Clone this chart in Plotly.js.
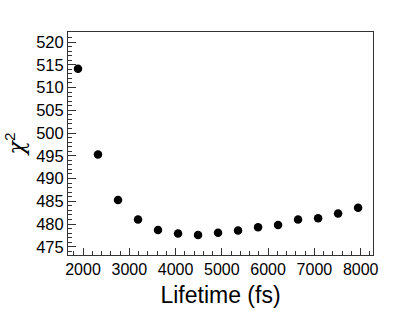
<!DOCTYPE html>
<html>
<head>
<meta charset="utf-8">
<script src="https://cdn.plot.ly/plotly-3.0.1.min.js"></script>
<style>html,body{margin:0;padding:0;background:#fff;}#chart{width:415px;height:317px;}</style>
</head>
<body>
<div id="chart"></div>
<script>
var lifetimes = [1892, 2324, 2757, 3189, 3621, 4054, 4486, 4918, 5350, 5783, 6215, 6647, 7080, 7512, 7944];
var chi2 = [514.1, 495.3, 485.3, 481.0, 478.7, 477.9, 477.6, 478.1, 478.6, 479.3, 479.8, 481.0, 481.3, 482.3, 483.6];
var xTitle = 'Lifetime (fs)';
var yTitle = '<span style="font-family:\'DejaVu Serif\',serif;font-style:italic;">χ</span><sup>2</sup>';

var font = 'Liberation Sans, Arial, Helvetica, sans-serif';
var trace = {
  x: lifetimes, y: chi2, type: 'scatter', mode: 'markers',
  marker: {color: '#000', size: 8.5}
};
var layout = {
  width: 415, height: 317,
  margin: {l: 68, r: 42, t: 32, b: 62, pad: 0},
  paper_bgcolor: '#fff', plot_bgcolor: '#fff',
  showlegend: false,
  font: {family: font, color: '#000'},
  xaxis: {
    range: [1676, 8266], tick0: 2000, dtick: 1000,
    showgrid: false, zeroline: false,
    showline: true, linecolor: '#333', linewidth: 1, mirror: true,
    ticks: 'inside', ticklen: 7, tickcolor: '#333', tickwidth: 1,
    minor: {ticks: 'inside', ticklen: 4, dtick: 200, tick0: 0, tickcolor: '#333', showgrid: false},
    tickfont: {size: 16, family: font, color: '#000'},
    title: {text: xTitle, font: {size: 23, family: font, color: '#000'}, standoff: 9}
  },
  yaxis: {
    range: [473.2, 522.2], tick0: 475, dtick: 5,
    showgrid: false, zeroline: false,
    showline: true, linecolor: '#333', linewidth: 1, mirror: true,
    ticks: 'inside', ticklen: 8, tickcolor: '#333', tickwidth: 1,
    minor: {ticks: 'inside', ticklen: 4, dtick: 1, tick0: 0, tickcolor: '#333', showgrid: false},
    tickfont: {size: 16.5, family: font, color: '#000'},
    ticklabelstandoff: 0,
    title: {text: yTitle, font: {size: 22, family: font, color: '#000'}, standoff: 5}
  }
};
Plotly.newPlot('chart', [trace], layout, {displayModeBar: false, staticPlot: true});
</script>
</body>
</html>
